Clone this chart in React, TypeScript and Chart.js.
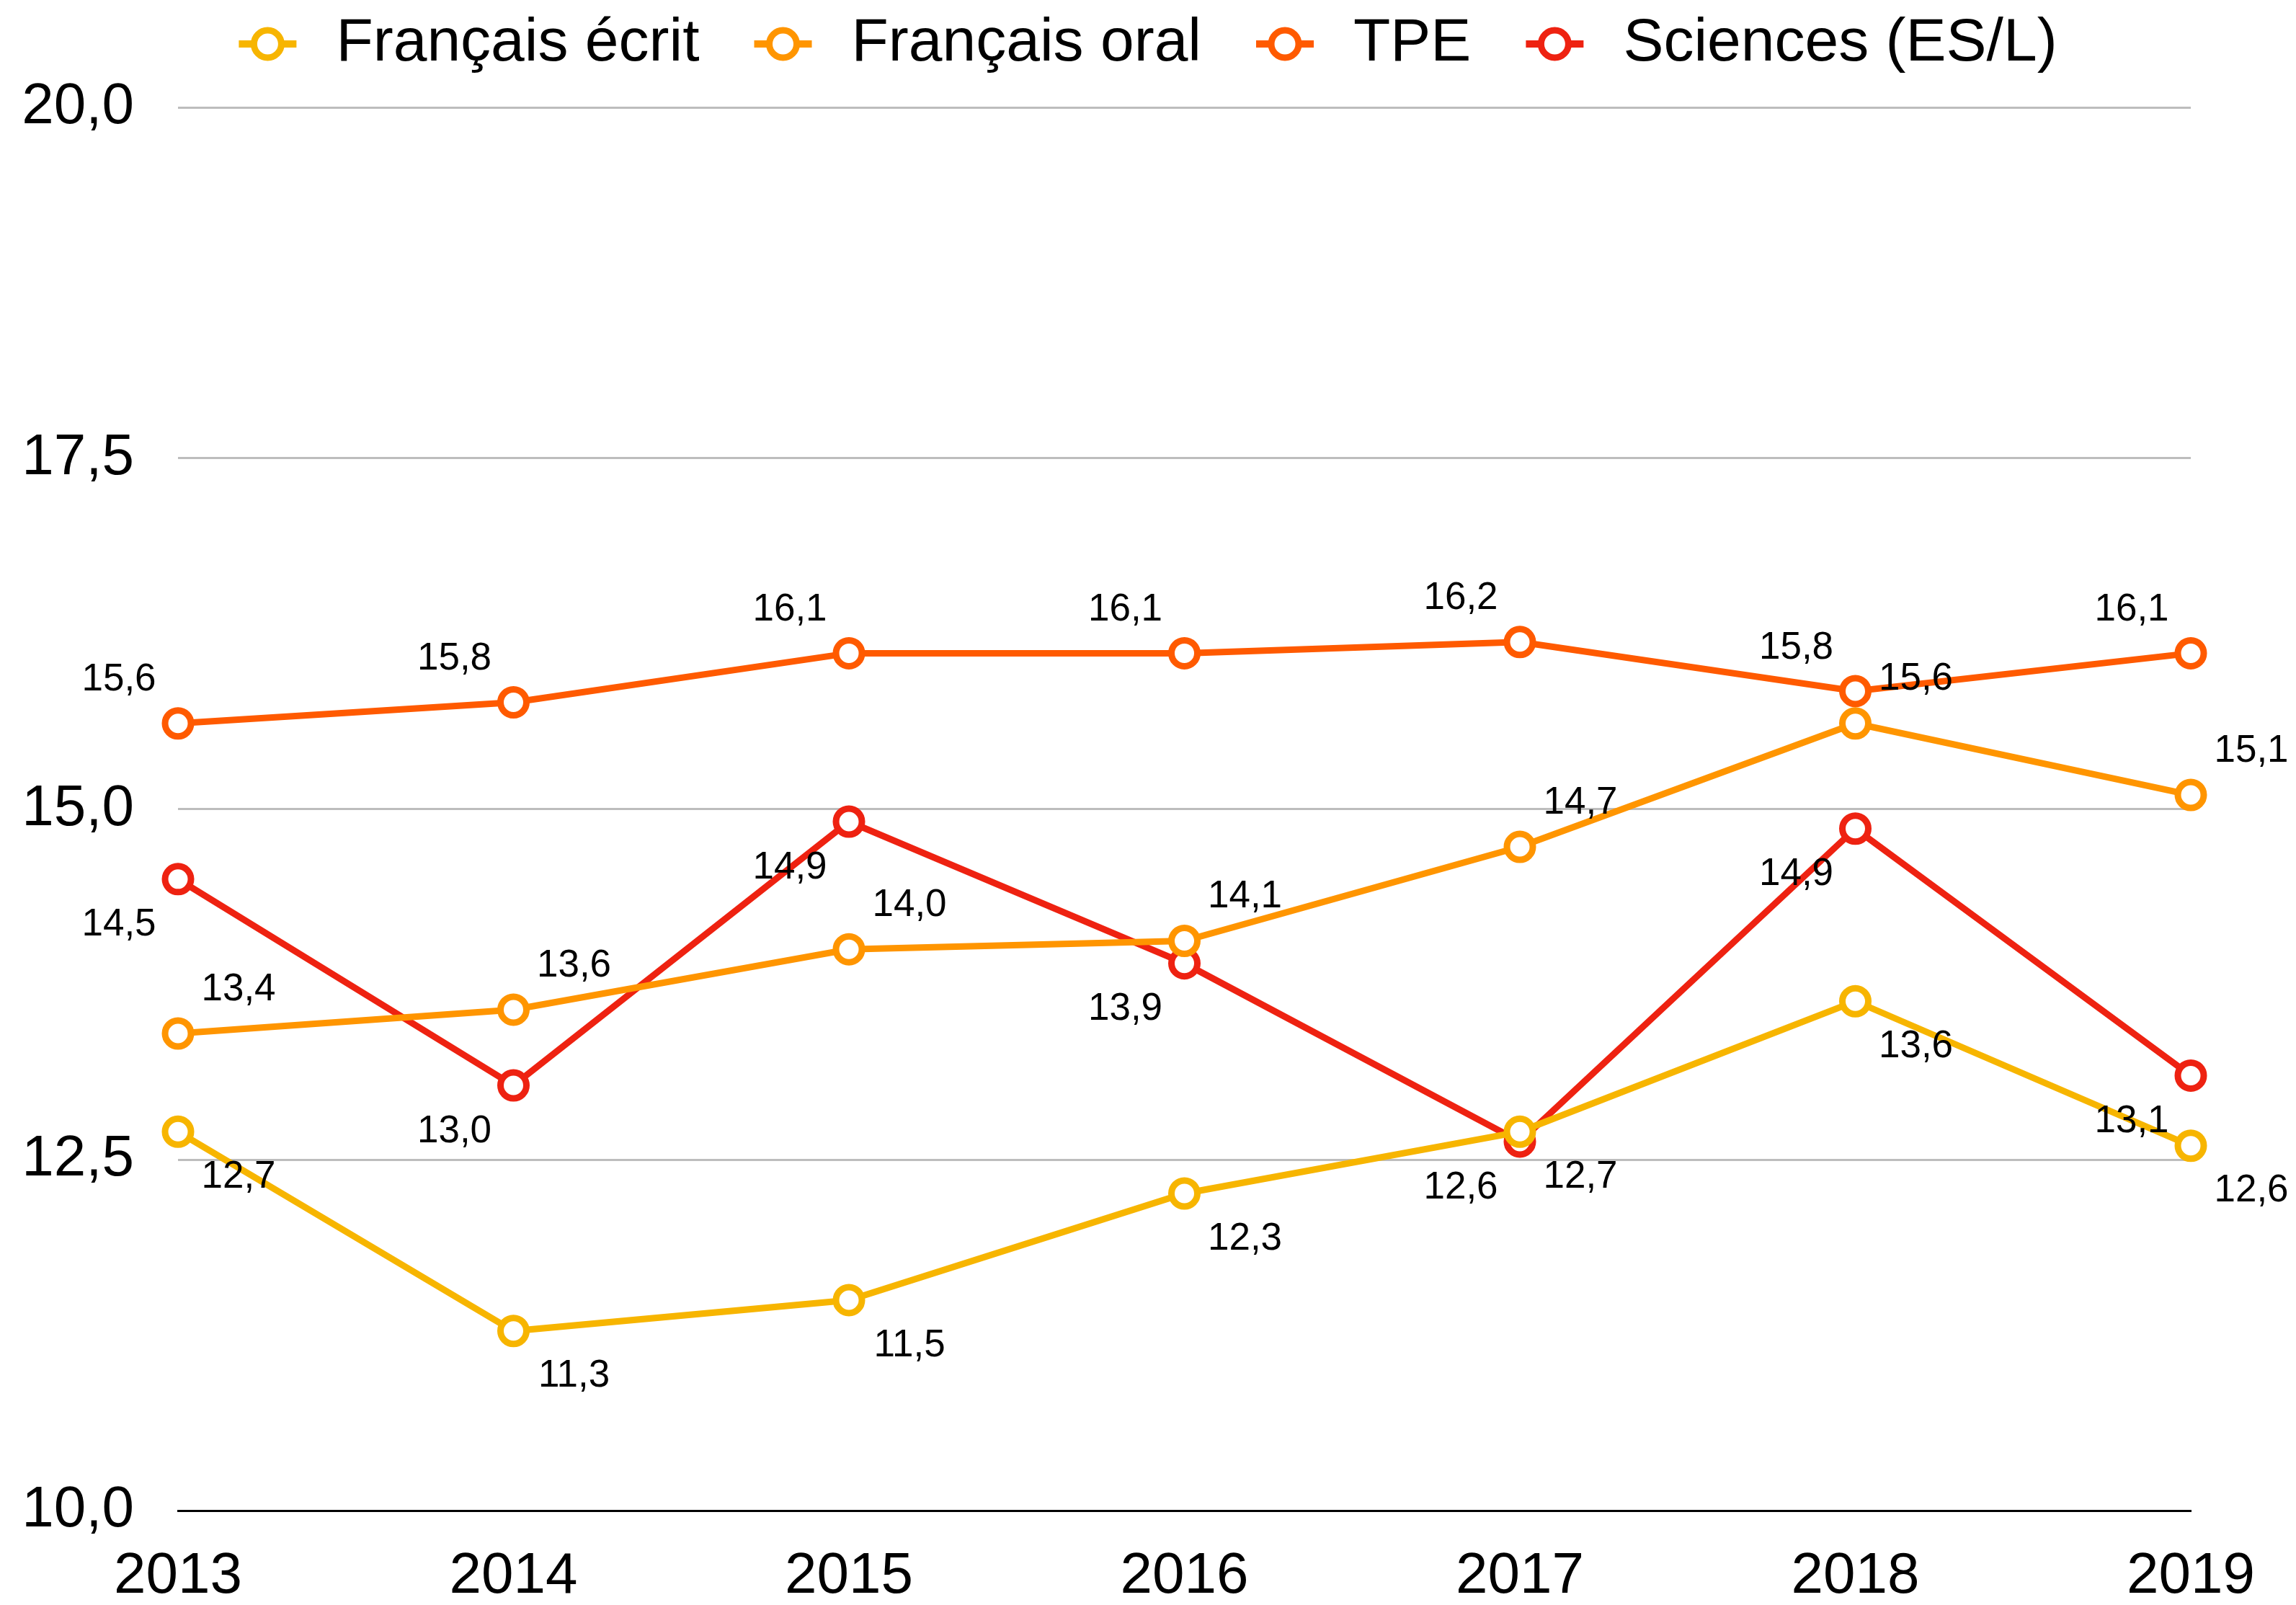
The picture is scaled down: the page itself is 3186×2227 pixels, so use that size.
import React, { useEffect, useRef } from 'react';
import { Chart, registerables } from 'chart.js';

Chart.register(...registerables);

// ---- Data (positions; labels show one decimal) ----
const years = ['2013', '2014', '2015', '2016', '2017', '2018', '2019'];
const francaisEcrit = [12.7, 11.28, 11.5, 12.26, 12.7, 13.63, 12.6];
const francaisOral = [13.4, 13.57, 14.0, 14.06, 14.73, 15.61, 15.1];
const tpe = [15.61, 15.76, 16.11, 16.11, 16.19, 15.84, 16.11];
const sciences = [14.5, 13.03, 14.91, 13.9, 12.63, 14.86, 13.1];
const seriesNames = ['Français écrit', 'Français oral', 'TPE', 'Sciences (ES/L)'];
const yMin = 10;
const yMax = 20;
const yStep = 2.5;

// ---- Style ----
const seriesColors = ['#F7B500', '#FF9500', '#FF5A00', '#EE2211'];
const labelOffsets: [number, number][] = [
  [84, 63],
  [84, -61],
  [-82, -60],
  [-82, 64],
];
const FONT = '"Liberation Sans", "Helvetica Neue", Helvetica, Arial, sans-serif';
const W = 3186;
const H = 2227;

const fmt = (v: number) => Number(v).toFixed(1).replace('.', ',');

const valueLabelPlugin = {
  id: 'valueLabels',
  afterDatasetsDraw(chart: any) {
    const ctx = chart.ctx;
    ctx.save();
    ctx.font = `53px ${FONT}`;
    ctx.fillStyle = '#000';
    ctx.textAlign = 'center';
    ctx.textBaseline = 'middle';
    chart.data.datasets.forEach((ds: any, i: number) => {
      const meta = chart.getDatasetMeta(i);
      const [dx, dy] = labelOffsets[i];
      meta.data.forEach((pt: any, j: number) => {
        ctx.fillText(fmt(ds.data[j]), pt.x + dx, pt.y + dy);
      });
    });
    ctx.restore();
  },
};

const legendPlugin = {
  id: 'lineCircleLegend',
  afterDraw(chart: any) {
    const ctx = chart.ctx;
    ctx.save();
    ctx.font = `84px ${FONT}`;
    const names = chart.data.datasets.map((d: any) => d.label);
    const widths = names.map((n: string) => ctx.measureText(n).width);
    const markerHalf = 40;
    const toText = 95;
    const gap = 116;
    let total = markerHalf;
    widths.forEach((w: number, i: number) => {
      total += toText + w;
      if (i < widths.length - 1) total += gap;
    });
    let cx = (chart.width - total) / 2 + markerHalf;
    const cy = 61;
    names.forEach((n: string, i: number) => {
      const color = chart.data.datasets[i].borderColor;
      ctx.strokeStyle = color;
      ctx.lineWidth = 10;
      ctx.beginPath();
      ctx.moveTo(cx - markerHalf, cy);
      ctx.lineTo(cx + markerHalf, cy);
      ctx.stroke();
      ctx.beginPath();
      ctx.arc(cx, cy, 19, 0, Math.PI * 2);
      ctx.fillStyle = '#fff';
      ctx.fill();
      ctx.lineWidth = 9;
      ctx.stroke();
      ctx.fillStyle = '#000';
      ctx.textAlign = 'left';
      ctx.textBaseline = 'middle';
      ctx.fillText(n, cx + toText, cy);
      cx += toText + widths[i] + gap;
    });
    ctx.restore();
  },
};

export default function App() {
  const ref = useRef<HTMLCanvasElement | null>(null);

  useEffect(() => {
    if (!ref.current) return;
    Chart.defaults.font.family = FONT;
    const series = [francaisEcrit, francaisOral, tpe, sciences];
    const chart = new Chart(ref.current, {
      type: 'line',
      data: {
        labels: years,
        datasets: series.map((data, i) => ({
          label: seriesNames[i],
          data,
          borderColor: seriesColors[i],
          backgroundColor: '#fff',
          borderWidth: 9,
          pointRadius: 18,
          pointBorderWidth: 9,
          pointBackgroundColor: '#fff',
          pointBorderColor: seriesColors[i],
          tension: 0,
          clip: false as any,
        })),
      },
      options: {
        responsive: false,
        animation: false,
        devicePixelRatio: 1,
        layout: { padding: { top: 149, right: 146, left: 0, bottom: 0 } },
        plugins: {
          legend: { display: false },
          tooltip: { enabled: false },
        },
        scales: {
          x: {
            type: 'category',
            offset: false,
            grid: { display: false, drawTicks: false },
            border: { display: true, color: '#000', width: 3 },
            ticks: {
              color: '#000',
              font: { size: 80, lineHeight: 1, family: FONT },
              padding: 52,
              maxRotation: 0,
              autoSkip: false,
            },
            afterFit: (s: any) => {
              s.height = 131;
            },
          },
          y: {
            min: yMin,
            max: yMax,
            ticks: {
              stepSize: yStep,
              color: '#000',
              font: { size: 80, lineHeight: 1, family: FONT },
              padding: 61,
              callback: (v: any) => fmt(v),
            },
            grid: {
              drawTicks: false,
              lineWidth: 3,
              color: (c: any) => (c.tick && c.tick.value === yMin ? '#000' : '#BDBDBD'),
            },
            border: { display: false },
            afterFit: (s: any) => {
              s.width = 247;
            },
          },
        },
      } as any,
      plugins: [valueLabelPlugin, legendPlugin],
    });
    return () => chart.destroy();
  }, []);

  return (
    <div style={{ position: 'fixed', left: 0, top: 0, width: W, height: H, background: '#fff' }}>
      <canvas ref={ref} width={W} height={H} style={{ width: W, height: H, display: 'block' }} />
    </div>
  );
}
